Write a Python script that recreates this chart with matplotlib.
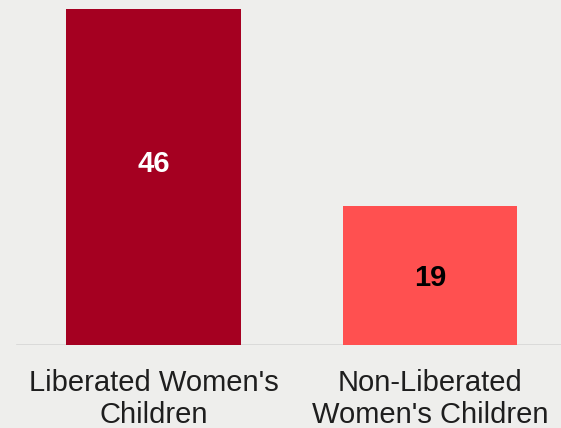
import matplotlib
matplotlib.use("Agg")
import matplotlib.pyplot as plt

categories = ["Liberated Women's\nChildren", "Non-Liberated\nWomen's Children"]
values = [46, 19]
bar_colors = ["#A50021", "#FF5050"]
value_colors = ["white", "black"]

plt.rcParams['font.family'] = ['Liberation Sans', 'DejaVu Sans']

W, H = 561, 428
fig = plt.figure(figsize=(W / 100, H / 100), dpi=100)
fig.patch.set_facecolor("#EEEEEC")

base_px = 345          # baseline, pixels from top
ax = fig.add_axes([0, (H - base_px) / H, 1, base_px / H])
ax.set_facecolor("none")

x = [0, 1]
ax.bar(x, values, width=0.63, color=bar_colors, zorder=2)
ax.set_xlim(-0.555, 1.474)
ax.set_ylim(0, 46 * base_px / 336)

for xi, v, c in zip(x, values, value_colors):
    ax.text(xi, v / 2 + (1.8 if v > 30 else -0.3), str(v), ha="center", va="center",
            color=c, fontsize=21, fontweight="bold", zorder=3)

ax.axhline(0, xmin=17 / W, xmax=1, color="#D6D6D6", lw=1.2, zorder=1)

for s in ax.spines.values():
    s.set_visible(False)
ax.set_yticks([])
ax.set_xticks(x)
ax.set_xticklabels(categories, fontsize=21, color="#1E1E1E", linespacing=1.2)
ax.tick_params(axis="x", length=0, pad=17)

fig.savefig("out.png", dpi=100, facecolor=fig.get_facecolor())
